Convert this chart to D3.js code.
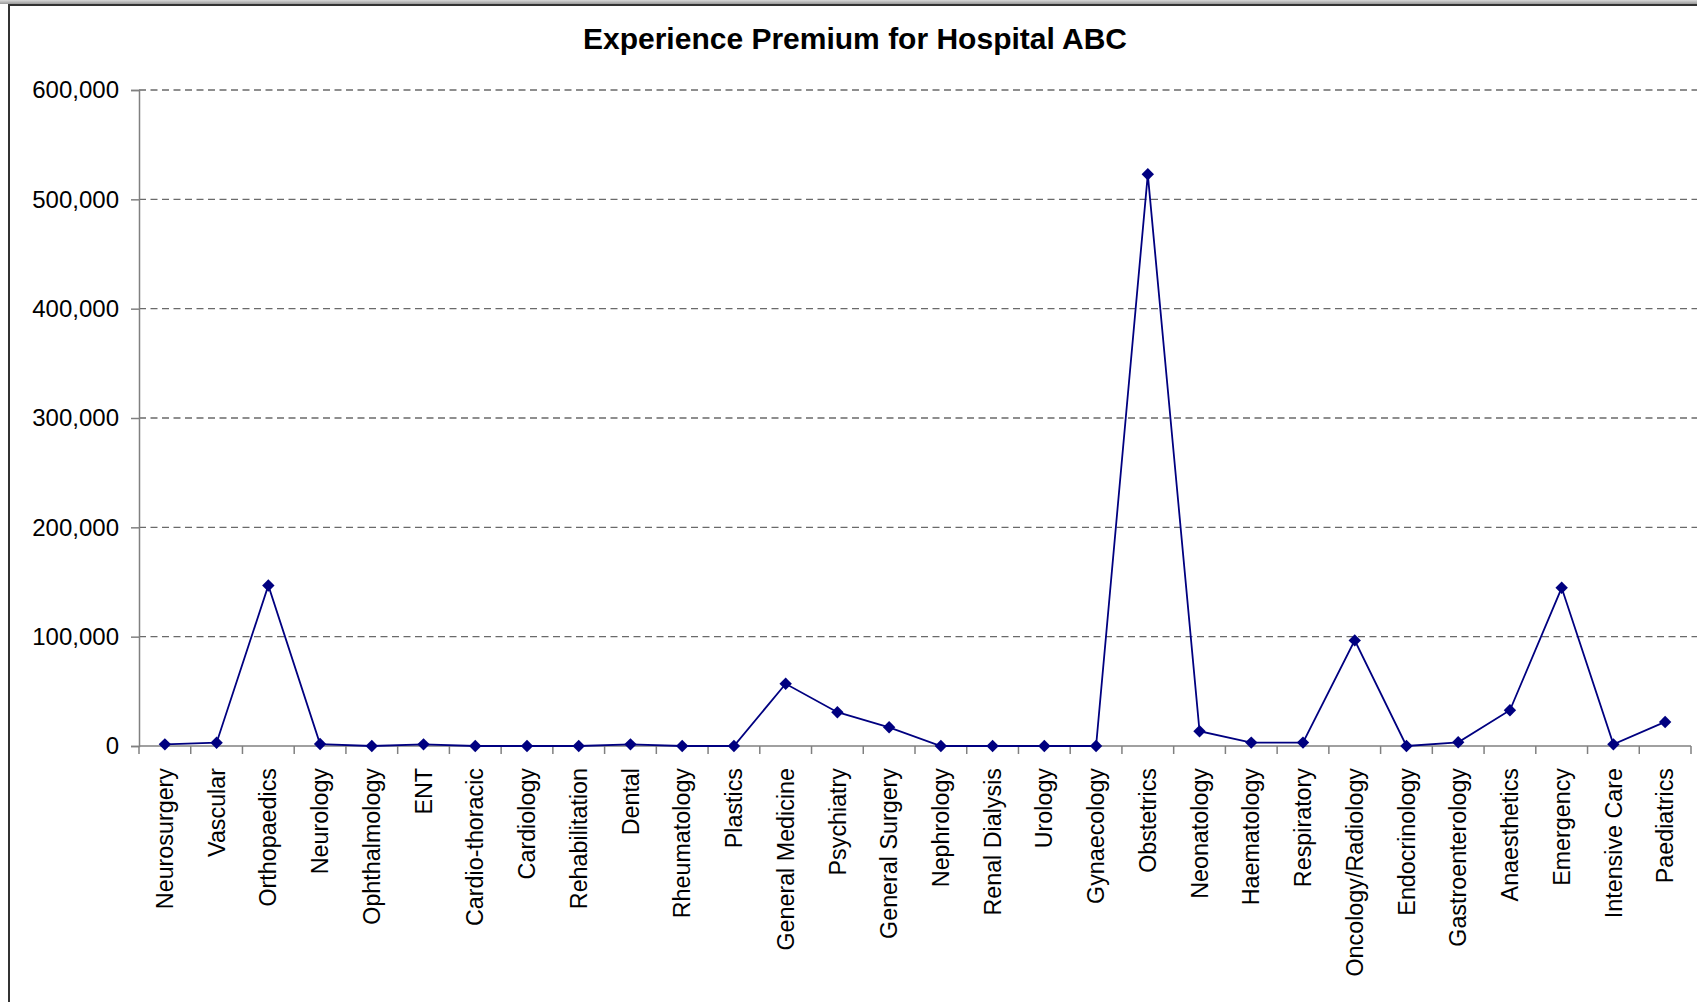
<!DOCTYPE html>
<html>
<head>
<meta charset="utf-8">
<script src="https://cdn.jsdelivr.net/npm/d3@7"></script>
<style>
  html, body { margin: 0; padding: 0; background: #fff; }
  svg { display: block; font-family: "Liberation Sans", Arial, sans-serif; }
</style>
</head>
<body>
<svg id="chart" width="1697" height="1002"></svg>
<script>
// Specialties along the x axis
const categories = [
  "Neurosurgery", "Vascular", "Orthopaedics", "Neurology", "Ophthalmology",
  "ENT", "Cardio-thoracic", "Cardiology", "Rehabilitation", "Dental",
  "Rheumatology", "Plastics", "General Medicine", "Psychiatry", "General Surgery",
  "Nephrology", "Renal Dialysis", "Urology", "Gynaecology", "Obstetrics",
  "Neonatology", "Haematology", "Respiratory", "Oncology/Radiology", "Endocrinology",
  "Gastroenterology", "Anaesthetics", "Emergency", "Intensive Care", "Paediatrics"
];

// Experience premium per specialty
const premium = [
  1500, 3000, 146800, 1800, 0,
  1500, 0, 0, 0, 1500,
  0, 0, 56900, 30900, 17100,
  0, 0, 0, 0, 522900,
  13500, 3100, 3100, 96600, 0,
  3400, 32700, 144700, 1500, 22000
];

// Value axis ticks
const yTicks = [0, 100000, 200000, 300000, 400000, 500000, 600000];

const title = "Experience Premium for Hospital ABC";

const svg = d3.select("#chart");
const W = 1697, H = 1002;
const left = 139, right = 1691, zeroY = 746, topY = 90;

// Frame of the chart area
const grad = svg.append("defs").append("linearGradient")
  .attr("id", "topband").attr("x1", 0).attr("y1", 0).attr("x2", 0).attr("y2", 1);
grad.append("stop").attr("offset", "0%").attr("stop-color", "#d8d8d8");
grad.append("stop").attr("offset", "100%").attr("stop-color", "#9a9a9a");
svg.append("rect").attr("x", 0).attr("y", 0).attr("width", W).attr("height", 4)
  .attr("fill", "url(#topband)");
svg.append("line").attr("x1", 8).attr("x2", W).attr("y1", 5).attr("y2", 5)
  .attr("stroke", "#333").attr("stroke-width", 2);
svg.append("line").attr("x1", 9).attr("x2", 9).attr("y1", 5).attr("y2", H)
  .attr("stroke", "#333").attr("stroke-width", 2);

const x = d3.scaleBand().domain(categories).range([left, right]).padding(0);
const y = d3.scaleLinear().domain([0, 600000]).range([zeroY, topY]);

// Title
svg.append("text")
  .attr("x", 855).attr("y", 49)
  .attr("text-anchor", "middle")
  .attr("font-size", 30).attr("font-weight", "bold")
  .attr("fill", "#000")
  .text(title);

// Dashed gridlines
svg.append("g").selectAll("line")
  .data(yTicks.filter(d => d > 0))
  .join("line")
  .attr("x1", left).attr("x2", W)
  .attr("y1", d => y(d)).attr("y2", d => y(d))
  .attr("stroke", "#6a6a6a").attr("stroke-width", 1.3)
  .attr("stroke-dasharray", "7,4.5");

// Y axis
const yAxis = d3.axisLeft(y)
  .tickValues(yTicks)
  .tickSize(8)
  .tickPadding(12)
  .tickFormat(d3.format(",.0f"));
const gy = svg.append("g").attr("transform", `translate(${left},0)`).call(yAxis);
gy.select(".domain").attr("stroke", "#808080").attr("stroke-width", 1.5);
gy.selectAll(".tick line").attr("stroke", "#808080").attr("stroke-width", 1.5);
gy.selectAll(".tick text")
  .attr("font-size", 24).attr("fill", "#000")
  .attr("font-family", "Liberation Sans, Arial, sans-serif");

// X axis: baseline with ticks between categories
const gx = svg.append("g");
gx.append("line")
  .attr("x1", left).attr("x2", right)
  .attr("y1", y(0)).attr("y2", y(0))
  .attr("stroke", "#808080").attr("stroke-width", 1.5);
const boundaries = categories.map(c => x(c)).concat([x(categories[categories.length - 1]) + x.bandwidth()]);
gx.selectAll("line.tick")
  .data(boundaries)
  .join("line")
  .attr("class", "tick")
  .attr("x1", d => d).attr("x2", d => d)
  .attr("y1", y(0)).attr("y2", y(0) + 8)
  .attr("stroke", "#808080").attr("stroke-width", 1.5);
gx.selectAll("text")
  .data(categories)
  .join("text")
  .attr("transform", d => `translate(${x(d) + x.bandwidth() / 2},${y(0) + 22}) rotate(-90)`)
  .attr("text-anchor", "end")
  .attr("dy", "0.35em")
  .attr("font-size", 23.3).attr("fill", "#000")
  .text(d => d);

// Series line
const pts = categories.map((c, i) => [x(c) + x.bandwidth() / 2, y(premium[i])]);
svg.append("path")
  .datum(pts)
  .attr("d", d3.line())
  .attr("fill", "none")
  .attr("stroke", "#000080")
  .attr("stroke-width", 1.8);

// Diamond markers
const r = 6.2;
svg.append("g").selectAll("path")
  .data(pts)
  .join("path")
  .attr("d", ([px, py]) => `M${px},${py - r}L${px + r},${py}L${px},${py + r}L${px - r},${py}Z`)
  .attr("fill", "#000080");
</script>
</body>
</html>
